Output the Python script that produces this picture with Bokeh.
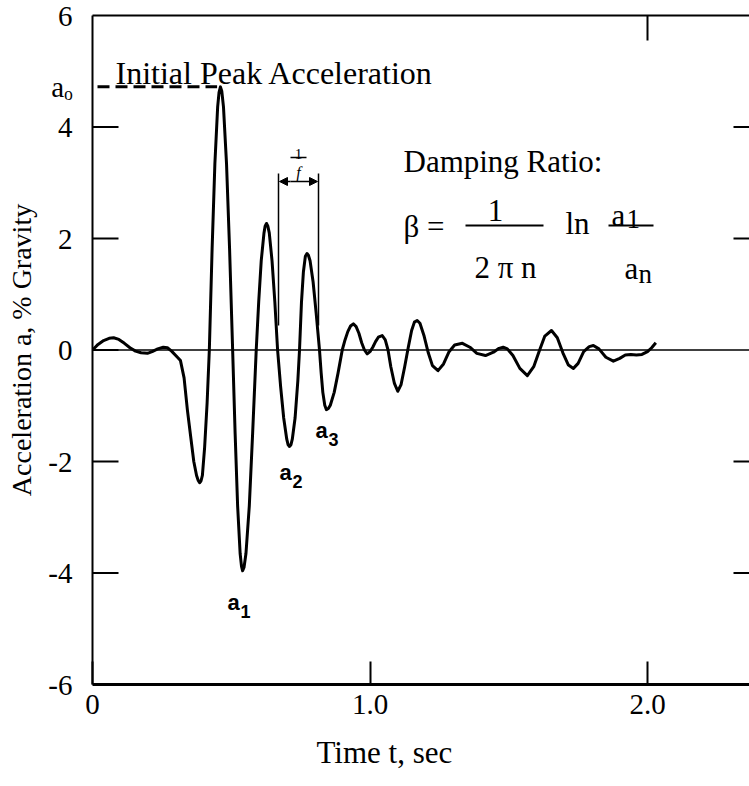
from bokeh.plotting import figure
from bokeh.models import LinearAxis, FixedTicker, Span, Label, Arrow, NormalHead, ColumnDataSource, Title
from bokeh.embed import file_html
from bokeh.resources import INLINE

# ---- data ----
time_s = [0.000, 0.020, 0.040, 0.060, 0.076, 0.095, 0.115, 0.135, 0.155, 0.175,
          0.198, 0.215, 0.235, 0.255, 0.270, 0.285, 0.300, 0.317, 0.330, 0.342,
          0.355, 0.365, 0.375, 0.381, 0.386, 0.391, 0.396, 0.404, 0.413, 0.421,
          0.431, 0.441, 0.451, 0.456, 0.461, 0.466, 0.472, 0.483, 0.494, 0.505,
          0.514, 0.523, 0.532, 0.537, 0.541, 0.546, 0.553, 0.565, 0.577, 0.590,
          0.599, 0.608, 0.618, 0.622, 0.627, 0.632, 0.637, 0.647, 0.657, 0.667,
          0.678, 0.689, 0.700, 0.705, 0.710, 0.715, 0.720, 0.730, 0.740, 0.746,
          0.753, 0.760, 0.767, 0.773, 0.778, 0.784, 0.795, 0.806, 0.818, 0.824,
          0.830, 0.837, 0.843, 0.850, 0.857, 0.871, 0.885, 0.900, 0.910, 0.920,
          0.930, 0.940, 0.950, 0.960, 0.970, 0.980, 0.990, 1.000, 1.010, 1.020,
          1.030, 1.044, 1.055, 1.065, 1.075, 1.088, 1.100, 1.112, 1.125, 1.138,
          1.150, 1.160, 1.170, 1.180, 1.195, 1.210, 1.225, 1.245, 1.265, 1.285,
          1.305, 1.333, 1.360, 1.385, 1.416, 1.445, 1.465, 1.480, 1.495, 1.515,
          1.540, 1.567, 1.590, 1.610, 1.630, 1.654, 1.675, 1.695, 1.715, 1.733,
          1.750, 1.770, 1.790, 1.805, 1.825, 1.850, 1.877, 1.900, 1.920, 1.940,
          1.960, 1.980, 2.000, 2.015, 2.030]
accel = [0.00, 0.10, 0.17, 0.21, 0.22, 0.19, 0.12, 0.04, -0.02, -0.05,
         -0.06, -0.03, 0.02, 0.05, 0.04, -0.02, -0.10, -0.19, -0.50, -1.08,
         -1.60, -2.00, -2.25, -2.34, -2.38, -2.35, -2.25, -1.75, -0.95, 0.00,
         1.81, 3.34, 4.36, 4.62, 4.72, 4.64, 4.36, 3.34, 1.81, 0.00,
         -1.50, -2.80, -3.65, -3.88, -3.96, -3.90, -3.65, -2.80, -1.50, 0.00,
         0.87, 1.60, 2.10, 2.22, 2.27, 2.22, 2.10, 1.60, 0.87, 0.00,
         -0.66, -1.22, -1.60, -1.70, -1.73, -1.70, -1.60, -1.22, -0.55, 0.00,
         0.85, 1.40, 1.68, 1.73, 1.70, 1.60, 1.22, 0.66, 0.00, -0.41,
         -0.76, -0.99, -1.07, -1.05, -0.99, -0.76, -0.41, 0.00, 0.18, 0.33,
         0.43, 0.47, 0.42, 0.30, 0.13, 0.00, -0.07, -0.03, 0.05, 0.15,
         0.23, 0.26, 0.18, 0.00, -0.30, -0.60, -0.74, -0.62, -0.30, 0.05,
         0.35, 0.50, 0.53, 0.48, 0.25, -0.05, -0.28, -0.37, -0.25, -0.03,
         0.09, 0.12, 0.05, -0.06, -0.10, -0.04, 0.03, 0.05, 0.02, -0.10,
         -0.33, -0.46, -0.30, -0.02, 0.25, 0.35, 0.22, -0.05, -0.27, -0.33,
         -0.24, -0.03, 0.06, 0.08, 0.02, -0.13, -0.20, -0.15, -0.09, -0.08,
         -0.09, -0.08, -0.03, 0.04, 0.13]

x_ticks = [0, 1, 2]
x_tick_labels = ["0", "1.0", "2.0"]
y_ticks = [-6, -4, -2, 0, 2, 4, 6]
y_tick_labels = ["-6", "-4", "-2", "0", "2", "4", "6"]
left_ticks = [-4, -2, 0, 2, 4]
right_ticks = [-4, -2, 2, 4]
top_ticks = [2.0]
peak_label = "aₒ"
trough_subscripts = ["1", "2", "3"]

# ---- layout ----
W, H = 749, 786
LEFT, TOP, BOTTOM, RIGHT = 92, 15, 684, 749
PX_PER_S = 277.5
X_END = (RIGHT - LEFT) / PX_PER_S
PX_PER_G = (BOTTOM - TOP) / 12.0
SERIF = "Liberation Serif"
SANS = "Liberation Sans"


def dx(px):
    return (px - LEFT) / PX_PER_S


def dy(py):
    return 6.0 - (py - TOP) / PX_PER_G


p = figure(width=W, height=H, x_range=(0, X_END), y_range=(-6, 6),
           output_backend="svg", toolbar_location=None,
           min_border_left=LEFT, min_border_right=0, min_border_top=TOP,
           min_border_bottom=H - BOTTOM)
p.outline_line_color = None
p.grid.visible = False
p.background_fill_color = "white"
p.border_fill_color = "white"

a0 = max(accel)
t0 = time_s[accel.index(a0)]

# left axis (tick marks drawn separately, labels incl. the initial peak a_o)
ya = p.yaxis[0]
ya.ticker = FixedTicker(ticks=y_ticks + [a0])
overrides = {t: s for t, s in zip(y_ticks, y_tick_labels)}
overrides[a0] = peak_label
ya.major_label_overrides = overrides
ya.major_tick_line_color = None
ya.minor_tick_line_color = None
ya.axis_line_width = 2
ya.major_label_text_font = SERIF
ya.major_label_text_font_size = "29px"
ya.major_label_text_color = "black"
ya.major_label_standoff = 14
ya.axis_label = "Acceleration a, % Gravity"
ya.axis_label_text_font = SERIF
ya.axis_label_text_font_size = "28px"
ya.axis_label_text_font_style = "normal"
ya.axis_label_text_color = "black"
ya.axis_label_standoff = 8

# bottom axis
xa = p.xaxis[0]
xa.ticker = FixedTicker(ticks=x_ticks)
xa.major_label_overrides = {t: s for t, s in zip(x_ticks, x_tick_labels)}
xa.major_tick_in = 23
xa.major_tick_out = 0
xa.major_tick_line_width = 2
xa.minor_tick_line_color = None
xa.axis_line_width = 3
xa.major_label_text_font = SERIF
xa.major_label_text_font_size = "29px"
xa.major_label_text_color = "black"
xa.major_label_standoff = 10

# x title, placed below the axis and shifted to where the reference has it
p.add_layout(Title(text="Time t, sec", align="left", offset=316 - LEFT,
                   text_font=SERIF, text_font_size="31px", text_font_style="normal",
                   text_color="black", standoff=32), "below")

# top border line
top_axis = LinearAxis(ticker=FixedTicker(ticks=[]), axis_line_width=2,
                      major_tick_line_color=None, minor_tick_line_color=None,
                      major_label_text_font_size="0px", major_label_standoff=0)
p.add_layout(top_axis, "above")

# zero line
p.add_layout(Span(location=0, dimension="width", line_color="black", line_width=1.5))

# inward tick marks on left, right and top
p.segment(x0=[0] * len(left_ticks), y0=left_ticks,
          x1=[26 / PX_PER_S] * len(left_ticks), y1=left_ticks, line_color="black", line_width=2)
p.segment(x0=[X_END - 16 / PX_PER_S] * len(right_ticks), y0=right_ticks,
          x1=[X_END] * len(right_ticks), y1=right_ticks, line_color="black", line_width=2)
p.segment(x0=top_ticks, y0=[6] * len(top_ticks), x1=top_ticks,
          y1=[6 - 25 / PX_PER_G] * len(top_ticks), line_color="black", line_width=2)

# the record
src = ColumnDataSource(dict(t=time_s, a=accel))
p.line("t", "a", source=src, line_color="black", line_width=3, line_join="round")

# initial peak dashed line
p.segment(x0=[dx(97)], y0=[a0], x1=[t0 - 0.012], y1=[a0], line_color="black",
          line_width=3, line_dash="12 6")


def lab(px, py, text, size, font=SERIF, align="left", baseline="alphabetic", style="normal"):
    p.add_layout(Label(x=dx(px), y=dy(py), text=text, text_font=font,
                       text_font_size=f"{size}px", text_align=align,
                       text_baseline=baseline, text_color="black",
                       text_font_style=style))


lab(115, 72, "Initial Peak Acceleration", 32)

# period bracket 1/f
p.segment(x0=[dx(278), dx(318)], y0=[dy(173)] * 2, x1=[dx(278), dx(318)], y1=[dy(325)] * 2,
          line_color="black", line_width=1.5)
p.add_layout(Arrow(x_start=dx(290), y_start=dy(181), x_end=dx(279), y_end=dy(181),
                   end=NormalHead(size=8, fill_color="black", line_color="black"),
                   line_color="black", line_width=1.5))
p.add_layout(Arrow(x_start=dx(290), y_start=dy(181), x_end=dx(317), y_end=dy(181),
                   end=NormalHead(size=8, fill_color="black", line_color="black"),
                   line_color="black", line_width=1.5))
lab(298, 153, "1", 15, align="center")
p.segment(x0=[dx(290)], y0=[dy(157)], x1=[dx(306)], y1=[dy(157)], line_color="black", line_width=1.5)
lab(298, 172, "f", 16, align="center", style="italic")

# damping ratio formula
lab(403, 161, "Damping Ratio:", 31)
lab(403, 226, "β =", 31)
lab(495, 210, "1", 31, align="center")
p.segment(x0=[dx(465), dx(608)], y0=[dy(225)] * 2, x1=[dx(543), dx(653)], y1=[dy(225)] * 2,
          line_color="black", line_width=2)
lab(505, 267, "2 π n", 31, align="center")
lab(565, 223, "ln", 31)
lab(611, 215, "a", 31)
lab(626, 218, "1", 27)
lab(624, 268, "a", 31)
lab(638, 273, "n", 27)

# trough labels a1, a2, a3
trough_label_px = [(227, 602), (279, 472), (315, 430)]
for (px, py), sub in zip(trough_label_px, trough_subscripts):
    lab(px, py, "a", 22, font=SANS, style="bold")
    lab(px + 13, py + 9, sub, 18, font=SANS, style="bold")

open("out.html", "w").write(file_html(p, INLINE))
